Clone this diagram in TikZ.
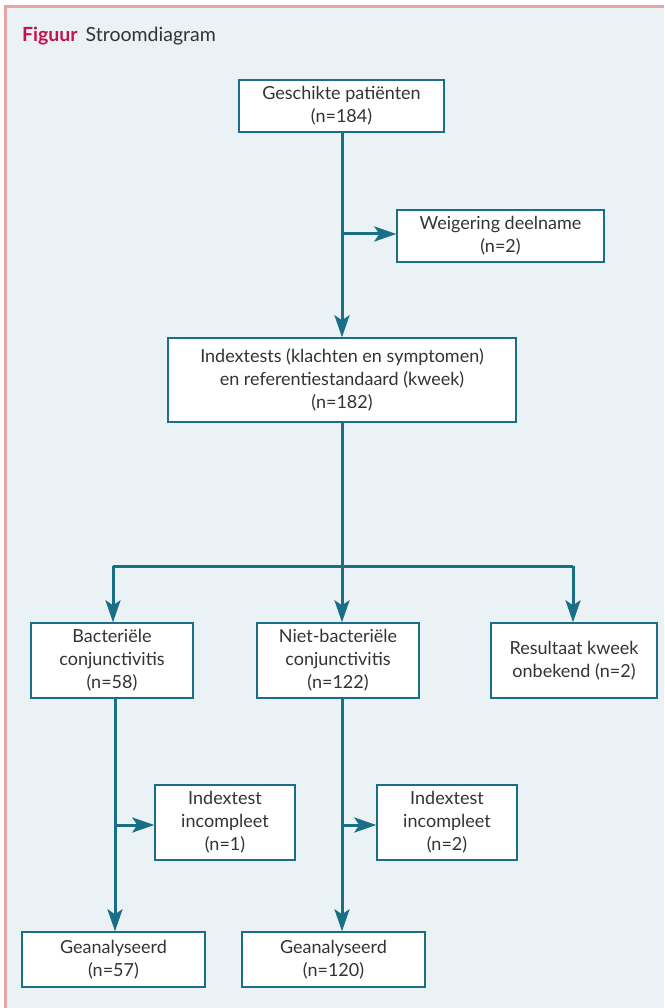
\documentclass[tikz,border=0pt]{standalone}
\usepackage{fontspec}
\setmainfont{Lato}
\usetikzlibrary{arrows.meta,calc}
\definecolor{bgblue}{HTML}{EAF2F5}
\definecolor{framepink}{HTML}{E8A3A6}
\definecolor{teal}{HTML}{1A6E86}
\definecolor{txt}{HTML}{333333}
\definecolor{crimson}{HTML}{C6124B}
\tikzset{
  box/.style={draw=teal, line width=1.4pt, fill=white, align=center, text=txt,
    font=\fontsize{18}{23}\selectfont, inner sep=0pt,
    execute at begin node={\rule{0pt}{19pt}}},
  conn/.style={draw=teal, line width=3pt},
  arr/.style={conn, -{Stealth[length=22pt,width=15pt,inset=5pt]}},
}
\begin{document}
\begin{tikzpicture}[x=1pt,y=-1pt]
\useasboundingbox (0,0) rectangle (664,1008);
\fill[white] (0,0) rectangle (664,1008);
\fill[bgblue] (5,8) rectangle (664,1008);
\draw[framepink, line width=3pt] (5,1008) -- (5,7) -- (664,7);
\node[anchor=base west, inner sep=0pt, font=\fontsize{19.5}{23}\selectfont] (title) at (22,42)
  {\textcolor{crimson}{\textbf{Figuur}}\hspace{8pt}\textcolor{txt}{Stroomdiagram}};

\node[box, minimum width=205pt, minimum height=52pt] (geschikt) at (341.5,106) {Geschikte patiënten\\(n=184)};
\node[box, minimum width=207pt, minimum height=52pt] (weiger) at (500.5,236) {Weigering deelname\\(n=2)};
\node[box, minimum width=348pt, minimum height=84pt] (index) at (342,380) {Indextests (klachten en symptomen)\\en referentiestandaard (kweek)\\(n=182)};
\node[box, minimum width=162pt, minimum height=75pt] (bact) at (112,660.5) {Bacteriële\\conjunctivitis\\(n=58)};
\node[box, minimum width=162pt, minimum height=75pt] (niet) at (338,660.5) {Niet-bacteriële\\conjunctivitis\\(n=122)};
\node[box, minimum width=166pt, minimum height=75pt] (result) at (574,660.5) {Resultaat kweek\\onbekend (n=2)};
\node[box, minimum width=140pt, minimum height=75pt] (inc1) at (225,822.5) {Indextest\\incompleet\\(n=1)};
\node[box, minimum width=140pt, minimum height=75pt] (inc2) at (447,822.5) {Indextest\\incompleet\\(n=2)};
\node[box, minimum width=183pt, minimum height=55pt] (gean1) at (113.5,959.5) {Geanalyseerd\\(n=57)};
\node[box, minimum width=183pt, minimum height=55pt] (gean2) at (333.5,959.5) {Geanalyseerd\\(n=120)};

\coordinate (b1) at (342,234);
\coordinate (split) at (342,566);
\coordinate (sl) at (113,566);
\coordinate (sr) at (573,566);
\coordinate (c1) at (115,825);
\coordinate (c2) at (342,825);

\draw[arr] (geschikt.south -| b1) -- (b1 |- index.north);
\draw[arr] (b1) -- (b1 -| weiger.west);
\draw[arr] (index.south -| split) -- (split |- niet.north);
\draw[conn] (sl) -- (sr);
\draw[arr] (sl) -- (sl |- bact.north);
\draw[arr] (sr) -- (sr |- result.north);
\draw[arr] (bact.south -| c1) -- (c1 |- gean1.north);
\draw[arr] (c1) -- (c1 -| inc1.west);
\draw[arr] (niet.south -| c2) -- (c2 |- gean2.north);
\draw[arr] (c2) -- (c2 -| inc2.west);
\end{tikzpicture}
\end{document}
